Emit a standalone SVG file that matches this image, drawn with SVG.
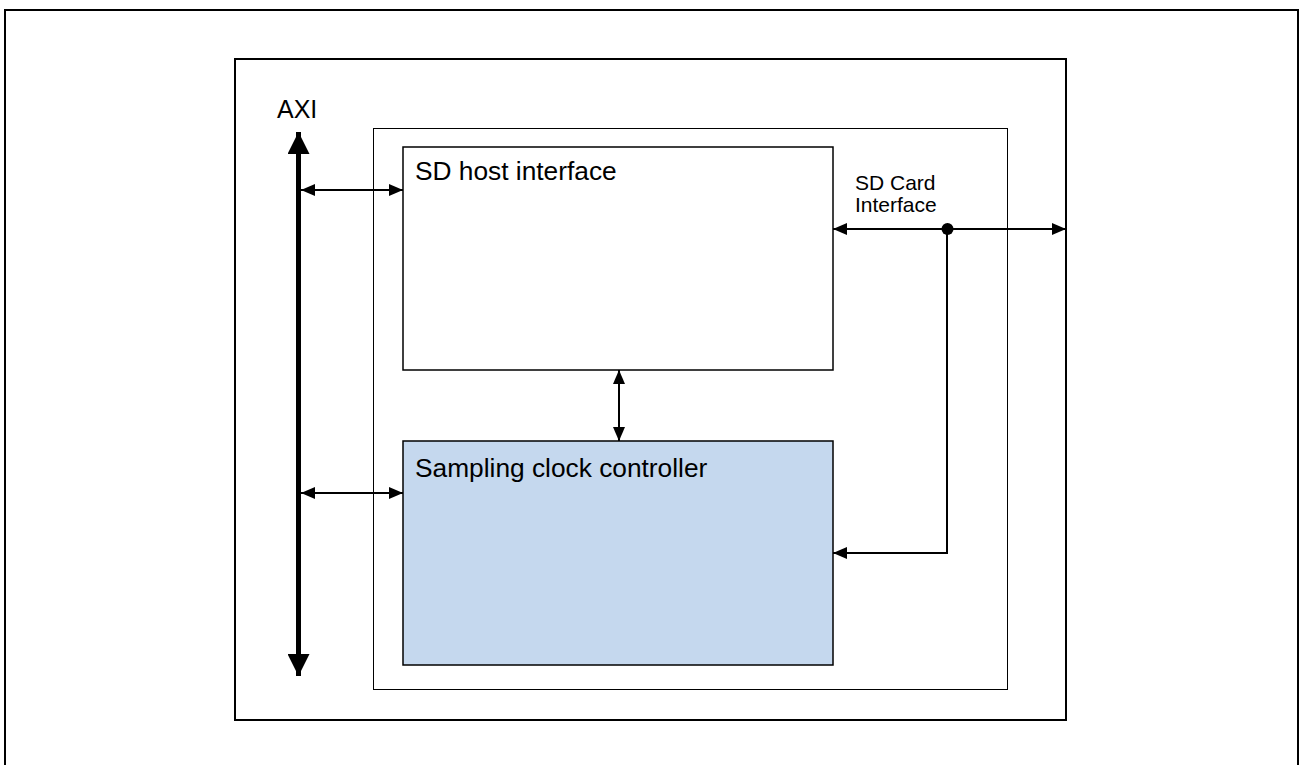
<svg xmlns="http://www.w3.org/2000/svg" width="1300" height="765" viewBox="0 0 1300 765">
<style>
.t{font-family:"Liberation Sans",Arial,sans-serif;fill:#000}
.ln{stroke:#000;stroke-width:2;fill:none}
</style>
<defs>
<marker id="ah" viewBox="0 0 14 12" refX="14" refY="6" markerWidth="14" markerHeight="12" markerUnits="userSpaceOnUse" orient="auto-start-reverse"><path d="M0,0 L14,6 L0,12 Z" fill="#000"/></marker>
<marker id="big" viewBox="0 0 22 22" refX="22" refY="11" markerWidth="22" markerHeight="22" markerUnits="userSpaceOnUse" orient="auto-start-reverse"><path d="M0,0 L22,11 L0,22 Z" fill="#000"/></marker>
</defs>
<rect width="1300" height="765" fill="#fff"/>
<rect x="5" y="10" width="1293" height="770" fill="none" stroke="#000" stroke-width="2"/>
<g id="chip"><rect x="235" y="59" width="831" height="661" fill="#fff" stroke="#000" stroke-width="2"/></g>
<g id="block"><rect x="373.5" y="128.5" width="634" height="561" fill="none" stroke="#000" stroke-width="1"/></g>
<g id="sdhost"><rect x="403" y="147" width="430" height="223" fill="#fff" stroke="#000" stroke-width="1.5"/><text class="t" x="415" y="180" font-size="26.3">SD host interface</text></g>
<g id="sampling"><rect x="403" y="441" width="430" height="224" fill="#c5d8ee" stroke="#000" stroke-width="1.5"/><text class="t" x="415" y="477" font-size="26.3">Sampling clock controller</text></g>
<g id="axi"><text class="t" x="277" y="118" font-size="25">AXI</text></g>
<g id="sdcard"><text class="t" x="855" y="190" font-size="21">SD Card</text><text class="t" x="855" y="212" font-size="21">Interface</text></g>
<g id="connectors">
<line x1="298.5" y1="132" x2="298.5" y2="676" stroke="#000" stroke-width="5" marker-start="url(#big)" marker-end="url(#big)"/>
<line class="ln" x1="301" y1="190" x2="403" y2="190" marker-start="url(#ah)" marker-end="url(#ah)"/>
<line class="ln" x1="301" y1="493" x2="403" y2="493" marker-start="url(#ah)" marker-end="url(#ah)"/>
<line class="ln" x1="619" y1="370" x2="619" y2="441" marker-start="url(#ah)" marker-end="url(#ah)"/>
<line class="ln" x1="833" y1="229" x2="1066" y2="229" marker-start="url(#ah)" marker-end="url(#ah)"/>
<polyline class="ln" points="947,229 947,553 833,553" marker-end="url(#ah)"/>
<circle cx="947.5" cy="229" r="6" fill="#000"/>
</g>
</svg>
